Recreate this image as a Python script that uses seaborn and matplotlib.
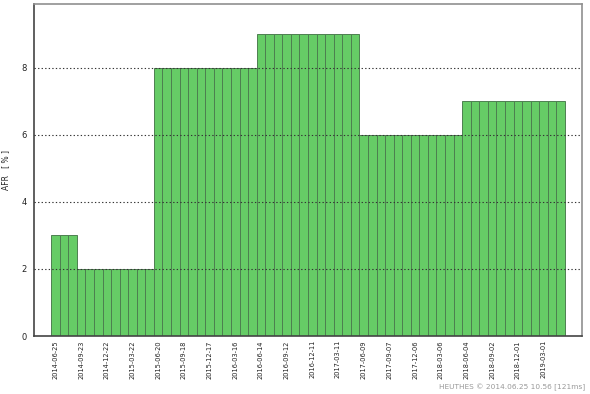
import pandas as pd
import matplotlib
matplotlib.use('Agg')
import matplotlib.pyplot as plt
import seaborn as sns

# monthly AFR values (30-day buckets starting 2014-06-25)
afr_2014_start = [3, 3, 3]
afr_2014_low = [2, 2, 2, 2, 2, 2, 2, 2, 2]
afr_2015 = [8, 8, 8, 8, 8, 8, 8, 8, 8, 8, 8, 8]
afr_2016 = [9, 9, 9, 9, 9, 9, 9, 9, 9, 9, 9, 9]
afr_2017 = [6, 6, 6, 6, 6, 6, 6, 6, 6, 6, 6, 6]
afr_2018 = [7, 7, 7, 7, 7, 7, 7, 7, 7, 7, 7, 7]
afr = afr_2014_start + afr_2014_low + afr_2015 + afr_2016 + afr_2017 + afr_2018

tick_labels = ['2014-06-25', '2014-09-23', '2014-12-22', '2015-03-22', '2015-06-20',
               '2015-09-18', '2015-12-17', '2016-03-16', '2016-06-14', '2016-09-12',
               '2016-12-11', '2017-03-11', '2017-06-09', '2017-09-07', '2017-12-06',
               '2018-03-06', '2018-06-04', '2018-09-02', '2018-12-01', '2019-03-01']

dates = pd.date_range('2014-06-25', periods=len(afr), freq='30D').strftime('%Y-%m-%d')
df = pd.DataFrame({'date': dates, 'AFR': afr})

sns.set_style('white')
fig = plt.figure(figsize=(5.9, 3.94), dpi=100)
ax = fig.add_axes([34 / 590, 58 / 394, 548 / 590, 332 / 394])

sns.barplot(data=df, x='date', y='AFR', color='#66cc66', saturation=1, width=1.0,
            edgecolor='#4d7f50', linewidth=0.7, ax=ax)

ax.set_xlim(-2.5, len(afr) + 1.5)
ax.set_ylim(0, 9.9)
ax.set_yticks([0, 2, 4, 6, 8])
ax.set_yticklabels(['0', '2', '4', '6', '8'], fontsize=6, color='#222222')
ax.set_xticks(range(0, len(afr), 3))
ax.set_xticklabels(tick_labels, rotation=90, fontsize=4.8, color='#222222')
ax.tick_params(axis='y', length=3, width=0.8, color='#333333', pad=2)
ax.tick_params(axis='x', length=2, width=0.6, color='#333333', pad=1)
ax.set_xlabel('')
ax.set_ylabel('AFR   [ % ]', fontsize=5.5, color='#222222', labelpad=8)

for y in [2, 4, 6, 8]:
    ax.axhline(y, color='#333333', linestyle=(0, (1.2, 2)), linewidth=0.8, zorder=3)

for side in ['top', 'right']:
    ax.spines[side].set_color('#909090')
    ax.spines[side].set_linewidth(1.2)
for side in ['left', 'bottom']:
    ax.spines[side].set_color('#444444')
    ax.spines[side].set_linewidth(1.2)
ax.spines['bottom'].set_zorder(4)

fig.text(585 / 590, 1 - 387 / 394, 'HEUTHES \u00a9 2014.06.25 10.56 [121ms]',
         ha='right', va='center', fontsize=5.3, color='#999999')

fig.savefig('out.png', dpi=100)
